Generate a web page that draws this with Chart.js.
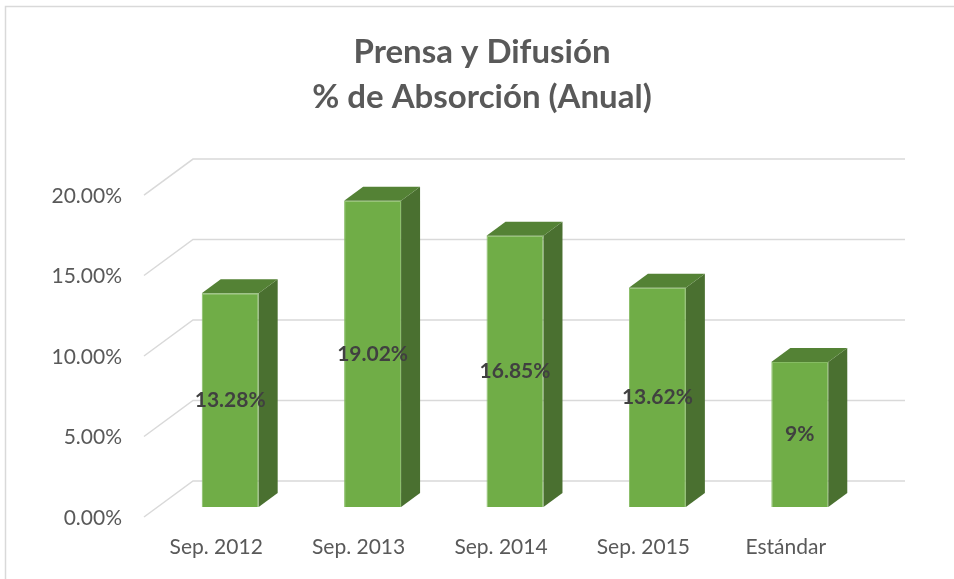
<!DOCTYPE html>
<html><head><meta charset="utf-8">
<script src="https://cdn.jsdelivr.net/npm/chart.js@4"></script>
<style>html,body{margin:0;padding:0;background:#fff}#wrap{width:954px;height:579px}</style>
</head><body><div id="wrap"><canvas id="c" width="954" height="579"></canvas></div>
<script>
const categories = ['Sep. 2012', 'Sep. 2013', 'Sep. 2014', 'Sep. 2015', 'Estándar'];
const absorption = [13.28, 19.02, 16.85, 13.62, 9];
const yTicks = [0, 5, 10, 15, 20];
const titleLines = ['Prensa y Difusión', '% de Absorción (Anual)'];

const BACK = {dx: 34, dy: -26};
const FRONT = {dx: -15, dy: 10};
const DEPTH = {dx: 19, dy: -14};

function fmtLabel(v) { return Number.isInteger(v) ? v + '%' : v.toFixed(2) + '%'; }

const frame3d = {
  id: 'frame3d',
  beforeDraw(chart) {
    const ctx = chart.ctx;
    ctx.save();
    ctx.fillStyle = '#ffffff';
    ctx.fillRect(0, 0, chart.width, chart.height);
    ctx.strokeStyle = '#D9D9D9';
    ctx.lineWidth = 1.5;
    ctx.strokeRect(5.5, 6.5, 960, 600);
    ctx.restore();
  },
  beforeDatasetsDraw(chart) {
    const {ctx, chartArea: a, scales: {y}} = chart;
    ctx.save();
    ctx.strokeStyle = '#D9D9D9';
    ctx.lineWidth = 1.5;
    yTicks.forEach(v => {
      const py = y.getPixelForValue(v);
      const by = py + BACK.dy;
      ctx.beginPath();
      ctx.moveTo(a.left + FRONT.dx, py + FRONT.dy);
      ctx.lineTo(a.left + BACK.dx, by);
      ctx.lineTo(a.right + BACK.dx, by);
      ctx.stroke();
    });
    ctx.restore();
  },
  afterDatasetsDraw(chart) {
    const ctx = chart.ctx;
    const meta = chart.getDatasetMeta(0);
    ctx.save();
    meta.data.forEach((bar, i) => {
      const {x, y: top, base, width} = bar.getProps(['x', 'y', 'base', 'width'], true);
      const l = x - width / 2, r = x + width / 2;
      ctx.fillStyle = '#4A7030';
      ctx.beginPath();
      ctx.moveTo(r, top); ctx.lineTo(r + DEPTH.dx, top + DEPTH.dy);
      ctx.lineTo(r + DEPTH.dx, base + DEPTH.dy); ctx.lineTo(r, base);
      ctx.closePath(); ctx.fill();
      ctx.fillStyle = '#548235';
      ctx.beginPath();
      ctx.moveTo(l, top); ctx.lineTo(l + DEPTH.dx, top + DEPTH.dy);
      ctx.lineTo(r + DEPTH.dx, top + DEPTH.dy); ctx.lineTo(r, top);
      ctx.closePath(); ctx.fill();
      ctx.fillStyle = '#404040';
      ctx.font = 'bold 21px Lato';
      ctx.textAlign = 'center';
      ctx.textBaseline = 'middle';
      ctx.fillText(fmtLabel(absorption[i]), x, (top + base) / 2);
    });
    ctx.restore();
  }
};

Chart.defaults.font.family = 'Lato';
new Chart(document.getElementById('c'), {
  type: 'bar',
  data: {
    labels: categories,
    datasets: [{
      data: absorption,
      yAxisID: 'y',
      backgroundColor: '#70AD47',
      borderColor: '#86BC63',
      borderWidth: 1,
      barPercentage: 0.8,
      categoryPercentage: 0.5
    }]
  },
  options: {
    responsive: false,
    animation: false,
    devicePixelRatio: 1,
    layout: {padding: {left: 40, right: 30, top: 0, bottom: 0}},
    plugins: {
      legend: {display: false},
      tooltip: {enabled: false},
      title: {
        display: true,
        text: titleLines,
        color: '#595959',
        font: {family: 'Lato', size: 33, weight: 'bold', lineHeight: 1.364},
        padding: {top: 30, bottom: 65}
      }
    },
    scales: {
      x: {
        grid: {display: false, drawTicks: false, tickLength: 0},
        border: {display: false},
        ticks: {color: '#595959', font: {size: 21}, padding: 28, labelOffset: -14, maxRotation: 0},
        afterFit(s) { s.height = 72; }
      },
      y: {
        position: 'left',
        min: 0, max: 20,
        grid: {display: false, drawTicks: false, tickLength: 0},
        border: {display: false},
        ticks: {
          stepSize: 5, color: '#595959', font: {size: 21}, padding: 37, labelOffset: 11,
          callback: v => Number(v).toFixed(2) + '%'
        },
        afterFit(s) { s.width = 119; }
      },
      yR: {
        position: 'right',
        min: 0, max: 1,
        grid: {display: false, drawTicks: false, tickLength: 0},
        border: {display: false},
        ticks: {display: false},
        afterFit(s) { s.width = 53; }
      }
    }
  },
  plugins: [frame3d]
});
</script>
</body></html>
